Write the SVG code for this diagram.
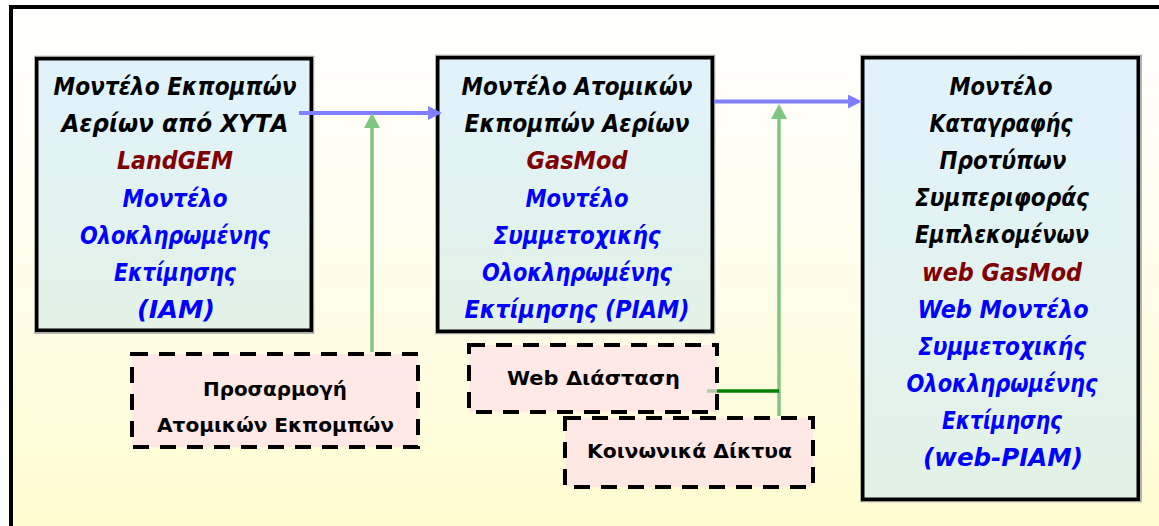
<svg xmlns="http://www.w3.org/2000/svg" width="1159" height="526" viewBox="0 0 1159 526">
  <defs>
    <linearGradient id="bgGrad" x1="0" y1="0" x2="0" y2="1">
      <stop offset="0" stop-color="#FFFFFF"/>
      <stop offset="0.35" stop-color="#FFFEF0"/>
      <stop offset="1" stop-color="#FFFBC8"/>
    </linearGradient>
    <linearGradient id="boxGrad" x1="0" y1="0" x2="0" y2="1">
      <stop offset="0" stop-color="#E0F3FC"/>
      <stop offset="1" stop-color="#E3F2E5"/>
    </linearGradient>
    <marker id="arrowBlue" markerUnits="userSpaceOnUse" markerWidth="15" markerHeight="15" refX="0" refY="7" orient="auto">
      <path d="M0,0 L14,7 L0,14 Z" fill="#8080FF"/>
    </marker>
    <marker id="arrowGreen" markerUnits="userSpaceOnUse" markerWidth="16" markerHeight="16" refX="0" refY="8" orient="auto">
      <path d="M0,0 L15,8 L0,16 Z" fill="#80C680"/>
    </marker>
    <style>
      .model { fill: url(#boxGrad); stroke: #000; stroke-width: 3.5; }
      .shadow { fill: none; stroke: #9A9A9A; stroke-width: 1.5; }
      .aux { fill: #FFE1E9; fill-opacity: 0.72; stroke: #000; stroke-width: 4; stroke-dasharray: 16 11; }
      .t { font-family: "DejaVu Sans", "Liberation Sans", sans-serif; font-weight: bold; font-style: italic; font-size: 24px; text-anchor: middle; }
      .a { font-family: "DejaVu Sans", "Liberation Sans", sans-serif; font-weight: bold; font-size: 19.5px; text-anchor: middle; fill: #000; }
      .k { fill: #000; }
      .r { fill: #800000; }
      .b { fill: #0000FF; }
      .flow { stroke: #8080FF; stroke-width: 4; fill: none; }
      .feed { stroke: #80C680; stroke-width: 3.5; fill: none; }
      .join { stroke: #008000; stroke-width: 3.5; fill: none; }
    </style>
  </defs>

  <!-- page frame -->
  <rect x="0" y="0" width="1159" height="526" fill="#FFFFFF"/>
  <rect x="11" y="7" width="1200" height="600" fill="url(#bgGrad)" stroke="#000" stroke-width="4"/>

  <!-- landfill gas emissions model -->
  <g id="node-landgem">
    <rect class="shadow" x="35" y="56.5" width="278.5" height="276.5"/>
    <rect class="model" x="36.75" y="58.75" width="274.5" height="271.5"/>
    <text class="t k" x="175" y="95" textLength="243" lengthAdjust="spacingAndGlyphs">Μοντέλο Εκπομπών</text>
    <text class="t k" x="175" y="132.2" textLength="227" lengthAdjust="spacingAndGlyphs">Αερίων από ΧΥΤΑ</text>
    <text class="t r" x="175" y="169.4" textLength="116" lengthAdjust="spacingAndGlyphs">LandGEM</text>
    <text class="t b" x="175" y="206.6" textLength="105" lengthAdjust="spacingAndGlyphs">Μοντέλο</text>
    <text class="t b" x="175" y="243.8" textLength="190" lengthAdjust="spacingAndGlyphs">Ολοκληρωμένης</text>
    <text class="t b" x="175" y="281" textLength="122" lengthAdjust="spacingAndGlyphs">Εκτίμησης</text>
    <text class="t b" x="176" y="318.2" textLength="78" lengthAdjust="spacingAndGlyphs">(IAM)</text>
  </g>

  <!-- individual emissions model -->
  <g id="node-gasmod">
    <rect class="shadow" x="436" y="55.5" width="278.5" height="278"/>
    <rect class="model" x="437.75" y="57.75" width="274.5" height="273.5"/>
    <text class="t k" x="577" y="95" textLength="231" lengthAdjust="spacingAndGlyphs">Μοντέλο Ατομικών</text>
    <text class="t k" x="577" y="132.2" textLength="225" lengthAdjust="spacingAndGlyphs">Εκπομπών Αερίων</text>
    <text class="t r" x="577" y="169.4" textLength="101" lengthAdjust="spacingAndGlyphs">GasMod</text>
    <text class="t b" x="577" y="206.6" textLength="103" lengthAdjust="spacingAndGlyphs">Μοντέλο</text>
    <text class="t b" x="577" y="243.8" textLength="167" lengthAdjust="spacingAndGlyphs">Συμμετοχικής</text>
    <text class="t b" x="577" y="281" textLength="190" lengthAdjust="spacingAndGlyphs">Ολοκληρωμένης</text>
    <text class="t b" x="577" y="318.2" textLength="225" lengthAdjust="spacingAndGlyphs">Εκτίμησης (PIAM)</text>
  </g>

  <!-- stakeholder behaviour model -->
  <g id="node-webgasmod">
    <rect class="shadow" x="861" y="55.5" width="280" height="446"/>
    <rect class="model" x="862.75" y="57.75" width="275.5" height="441.5"/>
    <text class="t k" x="1001" y="95" textLength="103" lengthAdjust="spacingAndGlyphs">Μοντέλο</text>
    <text class="t k" x="1001" y="132.1" textLength="143" lengthAdjust="spacingAndGlyphs">Καταγραφής</text>
    <text class="t k" x="1003" y="169.2" textLength="127" lengthAdjust="spacingAndGlyphs">Προτύπων</text>
    <text class="t k" x="1002" y="206.3" textLength="174" lengthAdjust="spacingAndGlyphs">Συμπεριφοράς</text>
    <text class="t k" x="1002" y="243.4" textLength="174" lengthAdjust="spacingAndGlyphs">Εμπλεκομένων</text>
    <text class="t r" x="1002" y="280.5" textLength="160" lengthAdjust="spacingAndGlyphs">web GasMod</text>
    <text class="t b" x="1003" y="317.6" textLength="171" lengthAdjust="spacingAndGlyphs">Web Μοντέλο</text>
    <text class="t b" x="1002" y="354.7" textLength="168" lengthAdjust="spacingAndGlyphs">Συμμετοχικής</text>
    <text class="t b" x="1002" y="391.8" textLength="191" lengthAdjust="spacingAndGlyphs">Ολοκληρωμένης</text>
    <text class="t b" x="1002" y="428.9" textLength="120" lengthAdjust="spacingAndGlyphs">Εκτίμησης</text>
    <text class="t b" x="1003" y="466" textLength="160" lengthAdjust="spacingAndGlyphs">(web-PIAM)</text>
  </g>

  <!-- connectors: flows between models and feeds from the inputs -->
  <g id="connectors">
    <line class="flow" x1="299" y1="113" x2="428" y2="113" marker-end="url(#arrowBlue)"/>
    <line class="flow" x1="714" y1="101.5" x2="848" y2="101.5" marker-end="url(#arrowBlue)"/>
    <line class="feed" x1="372" y1="352" x2="372" y2="128" marker-end="url(#arrowGreen)"/>
    <line class="feed" x1="779" y1="416" x2="779" y2="119" marker-end="url(#arrowGreen)"/>
    <line class="join" x1="707" y1="391" x2="779" y2="391"/>
  </g>

  <!-- supporting inputs -->
  <g id="node-adjustment">
    <rect class="aux" x="132" y="354" width="286" height="93"/>
    <text class="a" x="275" y="396" textLength="144" lengthAdjust="spacingAndGlyphs">Προσαρμογή</text>
    <text class="a" x="275.5" y="432" textLength="237" lengthAdjust="spacingAndGlyphs">Ατομικών Εκπομπών</text>
  </g>

  <g id="node-web">
    <rect class="aux" x="469" y="345" width="248" height="67"/>
    <text class="a" x="593.5" y="385" textLength="173" lengthAdjust="spacingAndGlyphs">Web Διάσταση</text>
  </g>

  <g id="node-social">
    <rect class="aux" x="565" y="418" width="248" height="69"/>
    <text class="a" x="689.5" y="458" textLength="205" lengthAdjust="spacingAndGlyphs">Κοινωνικά Δίκτυα</text>
  </g>
</svg>
